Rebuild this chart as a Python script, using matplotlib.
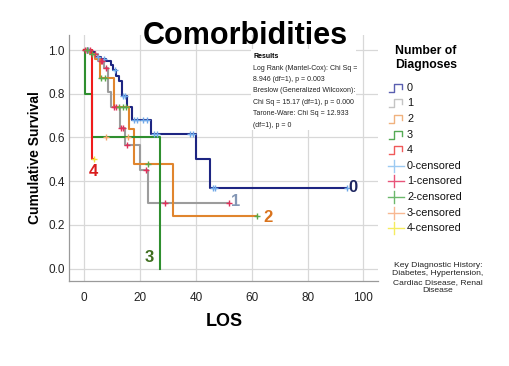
import matplotlib
matplotlib.use("Agg")
import matplotlib.pyplot as plt
from matplotlib.lines import Line2D
import numpy as np

# ---------------- data ----------------
groups = ["0", "1", "2", "3", "4"]

event_t0 = [2, 4, 6, 8, 9.5, 10.5, 11.5, 12.5, 13.5, 15.5, 17, 24, 40, 45]
surv0 = [0.99, 0.97, 0.96, 0.95, 0.93, 0.91, 0.88, 0.86, 0.79, 0.74, 0.68, 0.615, 0.50, 0.37]
end0 = 94
cens0 = [1, 1.5, 5, 7, 11, 14, 14.5, 18, 19, 21, 22.5, 25, 26, 38, 39, 46, 47, 94]

event_t1 = [3, 5, 7, 8.5, 9.6, 12.8, 14.8, 20, 23]
surv1 = [0.98, 0.95, 0.92, 0.81, 0.74, 0.645, 0.565, 0.45, 0.30]
end1 = 52
cens1 = [0.5, 1, 2, 4, 6, 6.5, 8, 10.7, 11.5, 13.3, 14, 15.2, 22, 29, 52]

event_t2 = [2, 4, 5.7, 10.7, 16.2, 18, 32]
surv2 = [0.98, 0.96, 0.87, 0.74, 0.64, 0.48, 0.24]
end2 = 62
cens2 = [1, 3, 6, 7.5, 12.5, 14, 15, 22.8, 62]

event_t3 = [0.5, 2.7, 27]
surv3 = [0.80, 0.60, 0.0]
end3 = 27
cens3 = [8, 15.7]

event_t4 = [2.7]
surv4 = [0.50]
end4 = 3.6
cens4 = [3.6]

x_ticks = [0, 20, 40, 60, 80, 100]
y_ticks = [0.0, 0.2, 0.4, 0.6, 0.8, 1.0]

stats_lines = ["Log Rank (Mantel-Cox): Chi Sq =",
               "8.946 (df=1), p = 0.003",
               "Breslow (Generalized Wilcoxon):",
               "Chi Sq = 15.17 (df=1), p = 0.000",
               "Tarone-Ware: Chi Sq = 12.933",
               "(df=1), p = 0"]

# ---------------- styles ----------------
line_colors = ["#1d2582", "#9c9c9c", "#e0852e", "#2f8f2f", "#f01c1c"]
cens_colors = ["#6fa8e8", "#e0305a", "#5aa84a", "#f5a46a", "#f2e23a"]
leg_line_colors = ["#5a5fb0", "#c4c4c4", "#f0b27e", "#55aa55", "#f05a5a"]
leg_cens_colors = ["#9ccaf2", "#e8557a", "#6cb86c", "#f8b892", "#f5ec60"]
label_colors = ["#1d2560", "#8497b5", "#d9731c", "#3f6e1f", "#d91c1c"]

W, H = 509, 366
fig = plt.figure(figsize=(W / 100, H / 100), dpi=100)
fig.patch.set_facecolor("white")

def fx(x):
    return x / W

def fy(y):
    return 1 - y / H

ax = fig.add_axes([fx(69), fy(281), (378 - 69) / W, (281 - 35) / H])
ax.set_xlim(-5.4, 105.2)
ax.set_ylim(-0.057, 1.069)

events = [event_t0, event_t1, event_t2, event_t3, event_t4]
survs = [surv0, surv1, surv2, surv3, surv4]
ends = [end0, end1, end2, end3, end4]
cens = [cens0, cens1, cens2, cens3, cens4]

def surv_at(t, ev, sv):
    s = 1.0
    for e, v in zip(ev, sv):
        if e <= t:
            s = v
    return s

for i in range(5):
    xs = [0] + list(events[i]) + [ends[i]]
    ys = [1.0] + list(survs[i]) + [survs[i][-1]]
    ax.step(xs, ys, where="post", color=line_colors[i], lw=1.5, zorder=3)
for i in range(5):
    cy = [surv_at(t, events[i], survs[i]) for t in cens[i]]
    ax.plot(cens[i], cy, ls="none", marker="+", ms=5, mew=1.0,
            color=cens_colors[i], zorder=4)

# group labels at curve ends
lab_pos = [(96.3, 0.37), (54.3, 0.305), (65.8, 0.235), (23.5, 0.05), (3.2, 0.445)]
for i, (lx, ly) in enumerate(lab_pos):
    ax.text(lx, ly, groups[i], color=label_colors[i], fontsize=12,
            fontweight="bold", ha="center", va="center",
            family="Liberation Sans", zorder=5)

ax.set_xticks(x_ticks)
ax.set_yticks(y_ticks)
ax.set_xticklabels([str(v) for v in x_ticks])
ax.set_yticklabels([f"{v:.1f}" for v in y_ticks])
ax.tick_params(length=0, labelsize=8.5, labelcolor="#222222")
ax.tick_params(axis="x", pad=8)
ax.tick_params(axis="y", pad=3)
for lab in ax.get_xticklabels() + ax.get_yticklabels():
    lab.set_family("Liberation Sans")
ax.grid(True, color="#d8d8d8", lw=0.9)
ax.set_axisbelow(True)
for s in ["top", "right"]:
    ax.spines[s].set_visible(False)
for s in ["left", "bottom"]:
    ax.spines[s].set_color("#9a9a9a")
    ax.spines[s].set_linewidth(0.9)

fig.text(fx(35), fy(158), "Cumulative Survival", rotation=90, ha="center",
         va="center", fontsize=10, fontweight="bold", family="Liberation Sans")
fig.text(fx(224), fy(322), "LOS", ha="center", va="center", fontsize=13,
         fontweight="bold", family="Liberation Sans")

# title
fig.text(fx(245), fy(36), "Comorbidities", ha="center", va="center",
         fontsize=22, fontweight="bold", family="Liberation Sans", zorder=10)

# results box
rect = plt.Rectangle((fx(251), fy(130)), fx(356) - fx(251), fy(49) - fy(130),
                     transform=fig.transFigure, facecolor="white",
                     edgecolor="none", zorder=6)
fig.add_artist(rect)
fig.text(fx(253), fy(57), "Results", ha="left", va="center", fontsize=5,
         fontweight="bold", family="Liberation Sans", zorder=7)
for k, line in enumerate(stats_lines):
    fig.text(fx(253), fy(68.3 + k * 11.35), line, ha="left", va="center",
             fontsize=5, family="Liberation Sans", color="#222222", zorder=7)

# legend (manual)
fig.text(fx(395), fy(45), "Number of\nDiagnoses", ha="left", va="top",
         fontsize=8.8, fontweight="bold", family="Liberation Sans",
         linespacing=1.2)
leg_labels = groups + [g + "-censored" for g in groups]
for k, lab in enumerate(leg_labels):
    yc = 87.7 + k * 15.6
    if k < 5:
        xs = [389, 394, 394, 402, 402]
        ys = [yc + 4, yc + 4, yc - 4, yc - 4, yc + 1]
        col = leg_line_colors[k]
        fig.add_artist(Line2D([fx(v) for v in xs], [fy(v) for v in ys],
                              transform=fig.transFigure, color=col, lw=1.0))
    else:
        col = leg_cens_colors[k - 5]
        fig.add_artist(Line2D([fx(388), fx(404)], [fy(yc), fy(yc)],
                              transform=fig.transFigure, color=col, lw=1.0))
        fig.add_artist(Line2D([fx(394), fx(394)], [fy(yc - 6), fy(yc + 6)],
                              transform=fig.transFigure, color=col, lw=1.0))
    fig.text(fx(407), fy(yc), lab, ha="left", va="center", fontsize=7.8,
             family="Liberation Sans", color="#111111")

fig.text(fx(438), fy(278), "Key Diagnostic History:\nDiabetes, Hypertension,\nCardiac Disease, Renal\nDisease",
         ha="center", va="center", fontsize=6.1,
         family="Liberation Sans", linespacing=1.25,
         color="#222222")

fig.savefig("out.png", dpi=100, facecolor="white")
